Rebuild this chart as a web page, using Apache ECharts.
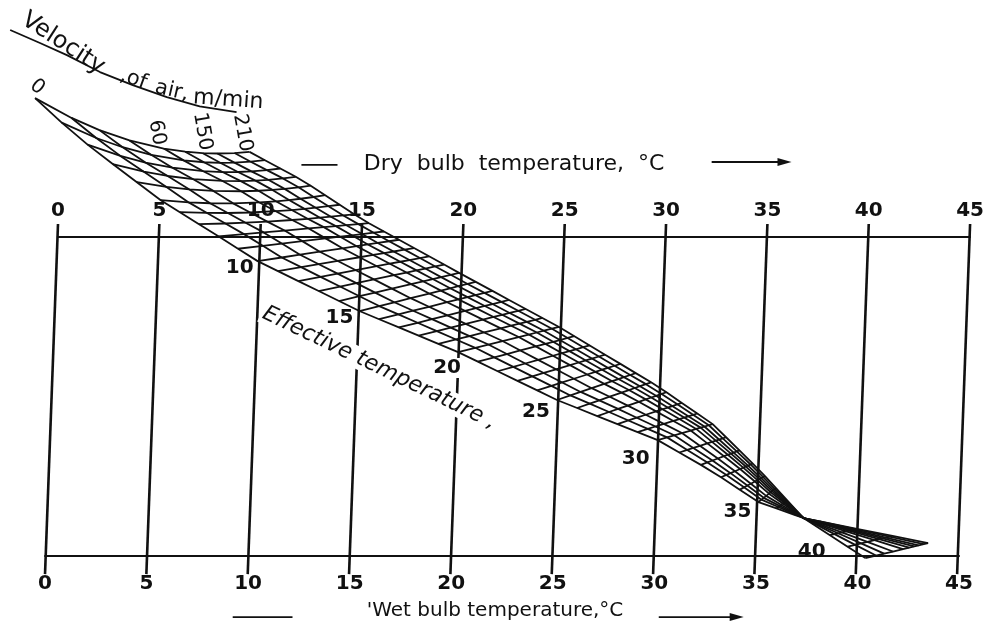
<!DOCTYPE html>
<html>
<head>
<meta charset="utf-8">
<title>Effective temperature chart</title>
<script src="https://cdn.jsdelivr.net/npm/echarts@6/dist/echarts.min.js"></script>
<style>
  html, body { margin: 0; padding: 0; background: #fff; }
  #chart { width: 987px; height: 626px; }
</style>
</head>
<body>
<div id="chart"></div>
<script>
// scale ticks, °C
const dryBulbTicks = [0, 5, 10, 15, 20, 25, 30, 35, 40, 45];
const wetBulbTicks = [0, 5, 10, 15, 20, 25, 30, 35, 40, 45];
// the wet bulb scale sits a bit left of the dry bulb one (in dry bulb °C)
const wetScaleShift = -0.64;

// air velocity curves, m/min, and their place across the band (0 = still air)
const velocities = [0, 6, 15, 30, 60, 90, 120, 150, 180, 210];
const velocityFrac = [0, 0.17, 0.3, 0.44, 0.6, 0.7, 0.78, 0.85, 0.93, 1];
const velocityLabels = [0, 60, 150, 210];

// effective temperature lines, °C
const etLines = [0, 1, 2, 3, 4, 5, 6, 7, 8, 9, 10, 11, 12, 13, 14, 15, 16, 17, 18, 19, 20,
  21, 22, 23, 24, 25, 26, 27, 28, 29, 30, 31, 32, 33, 34, 35, 36, 37, 38, 39, 40, 41];
const etLabels = [10, 15, 20, 25, 30, 35, 40];
const etPinch = 37.5;

// ET marks read along the still air curve and the 210 m/min curve
// [ET, x on dry bulb scale (°C), y as % of the scale height]
const stillAirEdge = [
  [0, -1.13, 142.6], [1.5, 0.84, 131.3], [3.2, 2.95, 121.2], [5, 5.07, 111.3],
  [7.5, 7.43, 102.1], [10, 9.85, 92.6], [15, 14.87, 77.3], [20, 19.74, 64.7],
  [25, 24.62, 50.0], [30, 29.59, 37.7], [32.5, 32.25, 28.2], [35, 34.56, 18.7],
  [37.5, 36.78, 13.8], [41, 39.83, 1.5]
];
const fastAirEdge = [
  [0, 9.45, 126.1], [3.5, 12.11, 117.2], [7.5, 14.97, 105.5], [14, 19.79, 89.0],
  [20, 24.72, 72.4], [26.5, 29.64, 54.0], [30, 32.30, 42.6], [33.5, 34.61, 28.5],
  [37.5, 36.78, 13.8], [41, 42.93, 6.1]
];
// the first ET lines bow downwards near the start of the velocity curves
const startSag = [[0, 5.8], [3.5, 2.5], [8, 0]];

function along(edge, et) {
  for (let i = 0; i < edge.length - 1; i++) {
    const a = edge[i], b = edge[i + 1];
    if (et >= a[0] && et <= b[0]) {
      const t = (et - a[0]) / (b[0] - a[0]);
      return a.slice(1).map((v, k) => v + (b[k + 1] - v) * t);
    }
  }
  return null;
}

function node(et, f) {
  const lo = along(stillAirEdge, et);
  const hi = along(fastAirEdge, et);
  const sag = et <= 8 ? along(startSag, et)[0] : 0;
  return [lo[0] + (hi[0] - lo[0]) * f, lo[1] + (hi[1] - lo[1]) * f - sag * 4 * f * (1 - f)];
}

// mesh: ET lines across the band, velocity curves along it
const meshLines = [];
etLines.forEach(et => meshLines.push(velocityFrac.map(f => node(et, f))));
const curveEts = etLines.concat([etPinch]).sort((a, b) => a - b);
velocityFrac.forEach(f => meshLines.push(curveEts.map(et => node(et, f))));

// lines joining each dry bulb tick with the same wet bulb tick
const scaleLines = dryBulbTicks.map((t, i) => [[t, 104], [wetBulbTicks[i] + wetScaleShift, -3.4]]);

// curved rule under the velocity caption
const velocityArc = [[-2.36, 163.5], [-0.89, 159.5], [0.44, 155.8], [2.07, 150.6],
  [3.69, 146.6], [5.37, 142.9], [6.99, 140.1], [8.81, 138.3]];

const FONT = '"DejaVu Sans", "Liberation Sans", sans-serif';
const INK = '#111';

// text notes: anchored at a data point, nudged in pixels
const notes = [];
notes.push({ text: 'Velocity', at: [0.25, 159.4], rot: -33, size: 24 });
notes.push({ text: ',of', at: [3.72, 148.4], rot: -20, size: 21 });
notes.push({ text: 'air,', at: [5.62, 144.8], rot: -13, size: 21 });
notes.push({ text: 'm/min', at: [8.4, 142.0], rot: -4, size: 22 });
notes.push({ text: 'Effective temperature ,', at: [15.85, 59.8], rot: -25.7, size: 22, italic: true, bg: true });

const velocityLabelNudge = { 0: [2, -11, -40], 60: [-7, -16, -80], 150: [-15, -22, -80], 210: [-7, -19, -80] };
velocityLabels.forEach(v => {
  const k = velocities.indexOf(v);
  const n = velocityLabelNudge[v];
  notes.push({ text: String(v), at: node(etLines[0], velocityFrac[k]), dx: n[0], dy: n[1], rot: n[2], size: 20 });
});

const etLabelNudge = { 10: [-18, 7], 15: [-20, 7], 20: [-11, 16], 25: [-21, 12], 30: [-22, 19], 35: [-21, 10], 40: [-36, 5] };
etLabels.forEach(et => {
  const n = etLabelNudge[et];
  notes.push({ text: String(et), at: node(et, 0), dx: n[0], dy: n[1], rot: 0, size: 20, bold: true, bg: et === 20 });
});

// caption rules with arrows
const captionRules = [
  { from: [12.01, 122.1], to: [13.79, 122.1], arrow: false },
  { from: [32.25, 123.0], to: [36.19, 123.0], arrow: true },
  { from: [8.62, -16.6], to: [11.57, -16.6], arrow: false },
  { from: [29.64, -16.6], to: [33.83, -16.6], arrow: true }
];

function polylineSeries(name, lines, width, z) {
  return {
    type: 'custom', name, coordinateSystem: 'cartesian2d', xAxisIndex: 0, yAxisIndex: 0,
    silent: true, clip: false, z,
    data: lines.map((_, i) => [i, 0]),
    renderItem: (params, api) => ({
      type: 'polyline',
      shape: { points: lines[params.dataIndex].map(p => api.coord(p)) },
      style: { stroke: INK, lineWidth: width, fill: null, lineJoin: 'round' }
    })
  };
}

const chart = echarts.init(document.getElementById('chart'), null, { renderer: 'canvas' });

const axisCommon = {
  type: 'value', min: 0, max: 45, interval: 5,
  axisLine: { onZero: false, lineStyle: { color: INK, width: 2 } },
  axisTick: { show: false },
  splitLine: { show: false },
  nameLocation: 'middle'
};

chart.setOption({
  backgroundColor: '#fff',
  animation: false,
  grid: [
    { left: 58, right: 15, top: 237, bottom: 63 },
    { left: 45, right: 28, top: 237, bottom: 63 }
  ],
  xAxis: [
    Object.assign({}, axisCommon, {
      gridIndex: 0, position: 'top',
      axisLabel: { customValues: dryBulbTicks, showMinLabel: true, showMaxLabel: true, margin: 16, color: INK, fontSize: 20, fontWeight: 'bold', fontFamily: FONT },
      name: 'Dry  bulb  temperature,  °C', nameGap: 62,
      nameTextStyle: { color: INK, fontSize: 22, fontFamily: FONT }
    }),
    Object.assign({}, axisCommon, {
      gridIndex: 1, position: 'bottom',
      axisLabel: { customValues: wetBulbTicks, showMinLabel: true, showMaxLabel: true, margin: 18, color: INK, fontSize: 20, fontWeight: 'bold', fontFamily: FONT },
      name: '\'Wet bulb temperature,°C', nameGap: 45,
      nameTextStyle: { color: INK, fontSize: 20, fontFamily: FONT, padding: [0, 14, 0, 0] }
    })
  ],
  yAxis: [
    { gridIndex: 0, type: 'value', min: 0, max: 100, show: false },
    { gridIndex: 1, type: 'value', min: 0, max: 100, show: false }
  ],
  series: [
    polylineSeries('scale lines', scaleLines, 2.6, 2),
    polylineSeries('mesh', meshLines, 1.8, 3),
    polylineSeries('velocity arc', [velocityArc], 1.8, 3),
    {
      type: 'custom', name: 'caption rules', coordinateSystem: 'cartesian2d', xAxisIndex: 0, yAxisIndex: 0,
      silent: true, clip: false, z: 4,
      data: captionRules.map((_, i) => [i, 0]),
      renderItem: (params, api) => {
        const r = captionRules[params.dataIndex];
        const a = api.coord(r.from), b = api.coord(r.to);
        const children = [{
          type: 'line', shape: { x1: a[0], y1: a[1], x2: r.arrow ? b[0] - 10 : b[0], y2: b[1] },
          style: { stroke: INK, lineWidth: 1.8 }
        }];
        if (r.arrow) {
          children.push({
            type: 'polygon',
            shape: { points: [[b[0], b[1]], [b[0] - 14, b[1] - 4], [b[0] - 14, b[1] + 4]] },
            style: { fill: INK }
          });
        }
        return { type: 'group', children };
      }
    },
    {
      type: 'custom', name: 'notes', coordinateSystem: 'cartesian2d', xAxisIndex: 0, yAxisIndex: 0,
      silent: true, clip: false, z: 6,
      data: notes.map((_, i) => [i, 0]),
      renderItem: (params, api) => {
        const n = notes[params.dataIndex];
        const p = api.coord(n.at);
        return {
          type: 'text',
          x: p[0] + (n.dx || 0), y: p[1] + (n.dy || 0),
          rotation: n.rot * Math.PI / 180,
          style: {
            text: n.text,
            font: (n.italic ? 'italic ' : '') + (n.bold ? 'bold ' : '') + n.size + 'px ' + FONT,
            fill: INK, align: 'center', verticalAlign: 'middle',
            backgroundColor: n.bg ? '#fff' : null, padding: n.bg ? [0, 2] : 0
          }
        };
      }
    }
  ]
});
</script>
</body>
</html>
